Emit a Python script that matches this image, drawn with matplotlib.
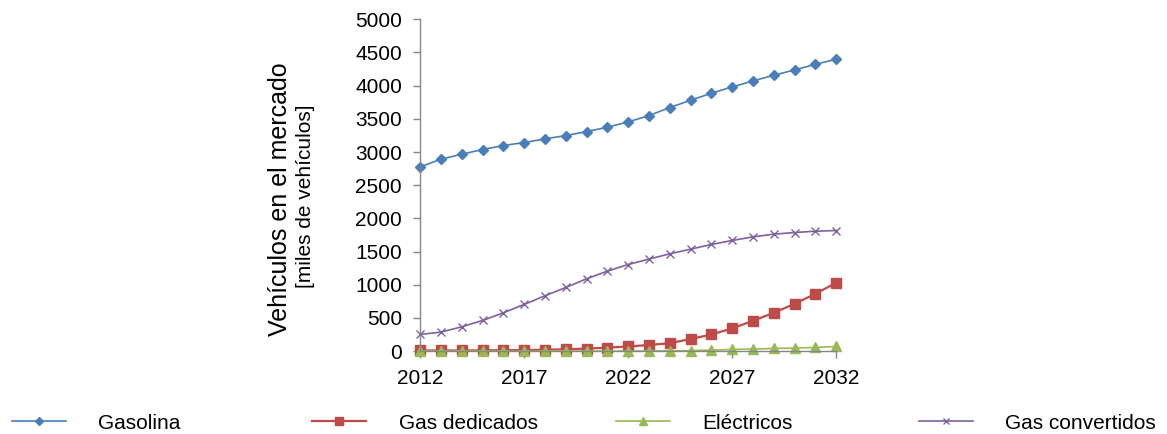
import matplotlib
matplotlib.use("Agg")
import matplotlib.pyplot as plt
from matplotlib.ticker import MultipleLocator

plt.rcParams['font.family'] = ['Liberation Sans', 'DejaVu Sans']

# vehículos en el mercado, miles
years = list(range(2012, 2033))
gasolina = [2776, 2892, 2967, 3038, 3098, 3143, 3198, 3248, 3308, 3373, 3454,
            3549, 3670, 3780, 3886, 3981, 4071, 4157, 4237, 4322, 4398]
gas_dedicados = [10, 10, 10, 12, 14, 16, 20, 28, 38, 52, 70,
                 92, 120, 181, 251, 341, 457, 577, 713, 863, 1029]
electricos = [0, 0, 0, 0, 0, 0, 0, 0, 0, 0, 0,
              2, 4, 8, 15, 25, 30, 40, 45, 55, 70]
gas_convertidos = [251, 286, 366, 462, 577, 703, 833, 959, 1089, 1205, 1305,
                   1386, 1466, 1536, 1607, 1667, 1722, 1762, 1787, 1807, 1817]
anios_etiqueta = [2012, 2017, 2022, 2027, 2032]

nombres = ["Gasolina", "Gas dedicados", "Eléctricos", "Gas convertidos"]
colores = ["#4A7EBB", "#BE4B48", "#98B954", "#7D60A0"]
marcadores = ["D", "s", "^", "x"]
tam_marcador = [5, 7.5, 7, 6]
grosor = [1.2, 1.6, 1.2, 1.2]
series = [gasolina, gas_dedicados, electricos, gas_convertidos]

fig = plt.figure(figsize=(11.67, 4.34), dpi=100)
ax = fig.add_axes([0.36, 0.191, 0.3565, 0.7645])

lineas = []
for datos, nombre, c, m, ms, lw in zip(series, nombres, colores, marcadores,
                                       tam_marcador, grosor):
    ln, = ax.plot(years, datos, color=c, marker=m, markersize=ms, linewidth=lw,
                  label=nombre, clip_on=False)
    lineas.append(ln)

ax.set_xlim(2012, 2032)
ax.set_ylim(0, 5000)
ax.set_xticks(anios_etiqueta)
ax.yaxis.set_major_locator(MultipleLocator(500))

for lado in ["top", "right"]:
    ax.spines[lado].set_visible(False)
for lado in ["left", "bottom"]:
    ax.spines[lado].set_color("#868686")
    ax.spines[lado].set_linewidth(1.0)
ax.tick_params(axis="both", colors="#868686", labelcolor="black", labelsize=15,
               length=5, width=1.0)
ax.tick_params(axis="y", pad=8)
ax.tick_params(axis="x", pad=8)

fig.text(0.240, 0.5415, "Vehículos en el mercado", rotation=90, fontsize=18,
         ha="center", va="center")
fig.text(0.262, 0.547, "[miles de vehículos]", rotation=90, fontsize=15,
         ha="center", va="center")

# una entrada de leyenda por serie, repartidas a lo ancho
x_leyenda = [0.0103, 0.2674, 0.5278, 0.7875]
for ln, xl in zip(lineas, x_leyenda):
    fig.legend(handles=[ln], loc="center left", bbox_to_anchor=(xl, 0.025),
               frameon=False, fontsize=15, handlelength=2.6, handletextpad=1.55,
               borderaxespad=0, borderpad=0, markerscale=0.8)

fig.savefig("out.png", dpi=100)
